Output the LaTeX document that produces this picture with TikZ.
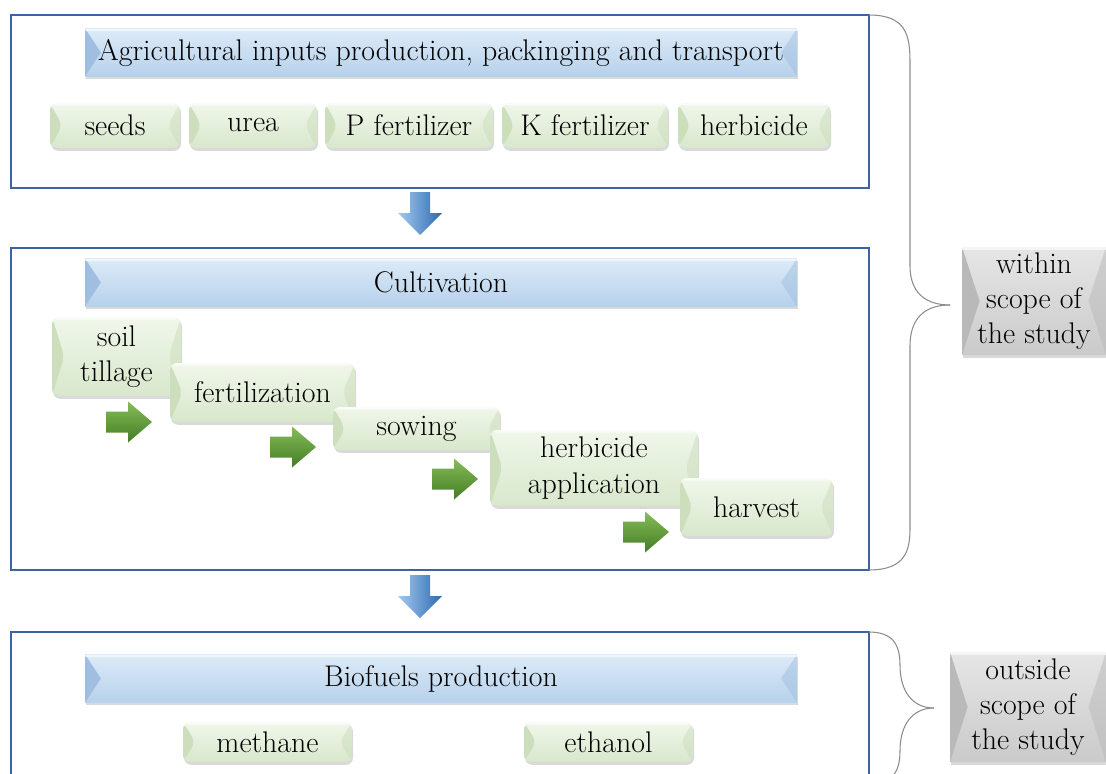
\documentclass[tikz,border=0pt]{standalone}
\usepackage{fontspec}
\usetikzlibrary{shadows}
\definecolor{frameDraw}{HTML}{3F62A4}
\definecolor{barTop}{HTML}{DDEBF8}
\definecolor{barBot}{HTML}{B6D1EB}
\definecolor{barEdge}{HTML}{A0BFE0}
\definecolor{stepTop}{HTML}{F1F7EB}
\definecolor{stepBot}{HTML}{D8E7CC}
\definecolor{stepEdge}{HTML}{CCDEBC}
\definecolor{scopeTop}{HTML}{E6E6E6}
\definecolor{scopeBot}{HTML}{CACACA}
\definecolor{scopeEdge}{HTML}{B9B9B9}
\definecolor{arrGreenTop}{HTML}{86BD58}
\definecolor{arrGreenBot}{HTML}{437C25}
\definecolor{arrBlueL}{HTML}{A3CAEF}
\definecolor{arrBlueR}{HTML}{2C69B0}
\definecolor{braceDraw}{HTML}{8C8C8C}

\begin{document}
\begin{tikzpicture}[
  x=0.02cm,y=-0.02cm,
  frame/.style={draw=frameDraw,line width=1.2pt,inner sep=0pt,outer sep=0pt},
  bx/.style={inner sep=0pt,outer sep=0pt,align=center,font=\fontsize{17}{20}\selectfont},
  bevel/.style 2 args={path picture={
    \fill[#1] (path picture bounding box.north west) -- ([xshift=#2]path picture bounding box.west)
      -- (path picture bounding box.south west) -- cycle;
    \fill[#1,opacity=0.5] (path picture bounding box.north east) -- ([xshift=-#2]path picture bounding box.east)
      -- (path picture bounding box.south east) -- cycle;
    \fill[white,opacity=0.6] (path picture bounding box.north west) rectangle ([yshift=-1.5pt]path picture bounding box.north east);}},
  shd/.style={drop shadow={shadow xshift=0.6pt,shadow yshift=-1.6pt,opacity=0.3}},
  bar/.style={bx,shd,top color=barTop,bottom color=barBot,bevel={barEdge}{9pt},
    minimum width=14.24cm,minimum height=0.96cm},
  stepbox/.style={bx,shd,rounded corners=4pt,top color=stepTop,bottom color=stepBot,bevel={stepEdge}{7pt}},
  scopebox/.style={bx,shd,top color=scopeTop,bottom color=scopeBot,bevel={scopeEdge}{10pt}},
  brace/.style={draw=braceDraw,line width=0.6pt},
]
\useasboundingbox (0,0) rectangle (1106,774);

% ---- stage frames -------------------------------------------------------
\node[frame,minimum width=17.16cm,minimum height=3.46cm] (F1) at (440,101.5) {};
\node[frame,minimum width=17.16cm,minimum height=6.44cm] (F2) at (440,409)   {};
\node[frame,minimum width=17.16cm,minimum height=3.04cm] (F3) at (440,708)   {};

% ---- stage headers ------------------------------------------------------
\node[bar] (inputs) at (441,52.5)  {Agricultural inputs production, packinging and transport};
\node[bar] (cult)   at (441,282.5) {Cultivation};
\node[bar] (bio)    at (441,678.5) {Biofuels production};

% inputs
\foreach \n/\x/\w/\t in {seeds/115/2.6/seeds, urea/253/2.56/urea, pfert/409/3.36/P fertilizer,
                         kfert/585/3.32/K fertilizer, herb/754/3.04/herbicide}
  \node[stepbox,minimum width=\w cm,minimum height=0.9cm] (\n) at (\x,125.5) {\t};

% cultivation steps (each one on top of the previous)
\node[stepbox,minimum width=2.58cm,minimum height=1.58cm] (till)    at (116.5,356.5) {soil\\tillage};
\node[stepbox,minimum width=3.7cm, minimum height=1.18cm] (fert)    at (262.5,392.5) {fertilization};
\node[stepbox,minimum width=3.34cm,minimum height=0.86cm] (sow)     at (416.5,428.5) {sowing};
\node[stepbox,minimum width=4.16cm,minimum height=1.52cm] (herbapp) at (594,468)     {herbicide\\application};
\node[stepbox,minimum width=3.06cm,minimum height=1.16cm] (harv)    at (756.5,507)   {harvest};

% green step arrows
\foreach \x/\y in {106/422, 270/447, 432/479, 623/532}
  \shade[top color=arrGreenTop,bottom color=arrGreenBot]
    (\x,\y-10.5) -- (\x+22,\y-10.5) -- (\x+22,\y-20.5) -- (\x+46,\y) -- (\x+22,\y+20.5)
    -- (\x+22,\y+10.5) -- (\x,\y+10.5) -- cycle;

% biofuels
\node[stepbox,minimum width=3.38cm,minimum height=0.8cm] (meth) at (267.5,742) {methane};
\node[stepbox,minimum width=3.38cm,minimum height=0.8cm] (eth)  at (608.5,742) {ethanol};

% ---- blue arrows between stages -----------------------------------------
\foreach \y in {192,575}
  \shade[left color=arrBlueL,right color=arrBlueR]
    (410,\y) -- (430,\y) -- (430,\y+21) -- (442,\y+21) -- (420,\y+43) -- (398,\y+21)
    -- (410,\y+21) -- cycle;

% ---- scope braces -------------------------------------------------------
\node[scopebox,minimum width=2.88cm,minimum height=2.16cm] (within)  at (1034,301) {within\\scope of\\the study};
\node[scopebox,minimum width=3.12cm,minimum height=2.2cm]  (outside) at (1028,707) {outside\\scope of\\the study};

\coordinate (tipIn)  at (950,305);
\coordinate (tipOut) at (934,708);
\draw[brace] (F1.north east) .. controls (906,15) and (910,35) .. (910,62) -- (910,266)
  .. controls (910,292) and (925,305) .. (tipIn);
\draw[brace] (F2.south east) .. controls (906,570) and (910,550) .. (910,528) -- (910,346)
  .. controls (910,318) and (925,305) .. (tipIn);
\draw[brace] (F3.north east) .. controls (893,632) and (900,645) .. (900,665)
  .. controls (900,692) and (913,708) .. (tipOut);
\draw[brace] (F3.south east) .. controls (893,784) and (900,771) .. (900,751)
  .. controls (900,724) and (913,708) .. (tipOut);

\end{tikzpicture}
\end{document}
